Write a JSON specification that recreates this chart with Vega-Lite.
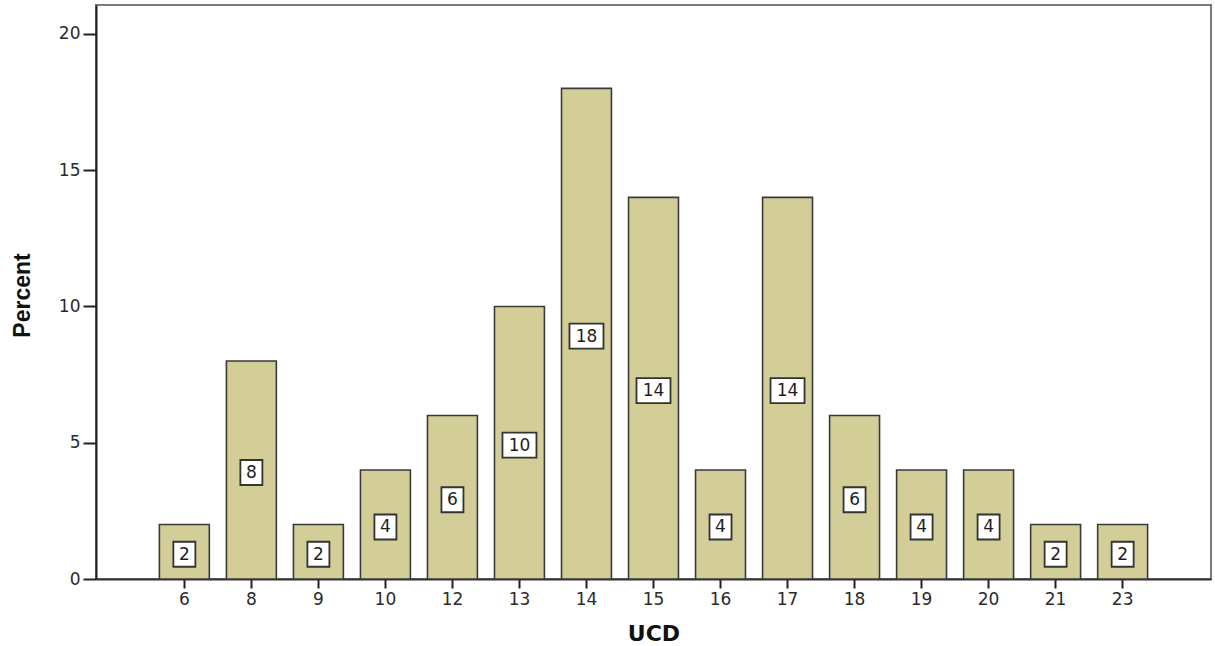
{
  "$schema": "https://vega.github.io/schema/vega-lite/v6.json",
  "autosize": {"type": "none"},
  "width": 1115,
  "height": 574,
  "padding": {"left": 96, "top": 5, "right": 4, "bottom": 67},
  "background": "white",
  "config": {
    "view": {"stroke": "#7a7a7a", "strokeWidth": 2},
    "axis": {"grid": false}
  },
  "data": {
    "values": [
      {"UCD": 6, "Percent": 2},
      {"UCD": 8, "Percent": 8},
      {"UCD": 9, "Percent": 2},
      {"UCD": 10, "Percent": 4},
      {"UCD": 12, "Percent": 6},
      {"UCD": 13, "Percent": 10},
      {"UCD": 14, "Percent": 18},
      {"UCD": 15, "Percent": 14},
      {"UCD": 16, "Percent": 4},
      {"UCD": 17, "Percent": 14},
      {"UCD": 18, "Percent": 6},
      {"UCD": 19, "Percent": 4},
      {"UCD": 20, "Percent": 4},
      {"UCD": 21, "Percent": 2},
      {"UCD": 23, "Percent": 2}
    ]
  },
  "encoding": {
    "x": {
      "field": "UCD",
      "type": "ordinal",
      "scale": {"paddingInner": 0.255, "paddingOuter": 0.946},
      "axis": {
        "title": "UCD",
        "labelAngle": 0,
        "labelFont": "DejaVu Sans",
        "labelFontSize": 17,
        "labelColor": "#2a2a2a",
        "labelPadding": 3,
        "tickSize": 9,
        "tickColor": "#222",
        "tickWidth": 2,
        "domainColor": "#333",
        "domainWidth": 2,
        "titleFont": "DejaVu Sans",
        "titleFontWeight": "bold",
        "titleFontSize": 22,
        "titleColor": "#111",
        "titleBaseline": "alphabetic",
        "titleY": 61
      }
    }
  },
  "layer": [
    {
      "mark": {"type": "bar", "color": "#d3ce97", "stroke": "#3a3a3a", "strokeWidth": 1.6},
      "encoding": {
        "y": {
          "field": "Percent",
          "type": "quantitative",
          "scale": {"domain": [0, 21.06], "nice": false, "zero": true},
          "axis": {
            "title": "Percent",
            "values": [0, 5, 10, 15, 20],
            "labelFont": "DejaVu Sans",
            "labelFontSize": 17,
            "labelColor": "#2a2a2a",
            "labelPadding": 3,
            "tickSize": 13,
            "tickColor": "#222",
            "tickWidth": 2,
            "domainColor": "#222",
            "domainWidth": 2,
            "titleFont": "Liberation Sans",
            "titleFontWeight": "bold",
            "titleFontSize": 23,
            "titleColor": "#111",
            "titleAngle": -90,
            "titleAlign": "center",
            "titleBaseline": "middle",
            "titleX": -74,
            "titleY": 290
          }
        }
      }
    },
    {
      "transform": [{"calculate": "datum.Percent / 2", "as": "mid"}],
      "mark": {"type": "point", "filled": true, "fill": "white", "stroke": "#333", "strokeWidth": 1.8, "opacity": 1, "size": 625, "yOffset": 2.5},
      "encoding": {
        "y": {"field": "mid", "type": "quantitative"},
        "shape": {
          "condition": {"test": "datum.Percent >= 10", "value": "M-1.36,-1H1.36V1H-1.36Z"},
          "value": "M-0.88,-1H0.88V1H-0.88Z"
        }
      }
    },
    {
      "transform": [{"calculate": "datum.Percent / 2", "as": "mid"}],
      "mark": {"type": "text", "font": "DejaVu Sans", "fontSize": 17, "color": "#1e1e1e", "baseline": "middle", "align": "center", "yOffset": 3},
      "encoding": {
        "y": {"field": "mid", "type": "quantitative"},
        "text": {"field": "Percent", "type": "quantitative"}
      }
    }
  ]
}
